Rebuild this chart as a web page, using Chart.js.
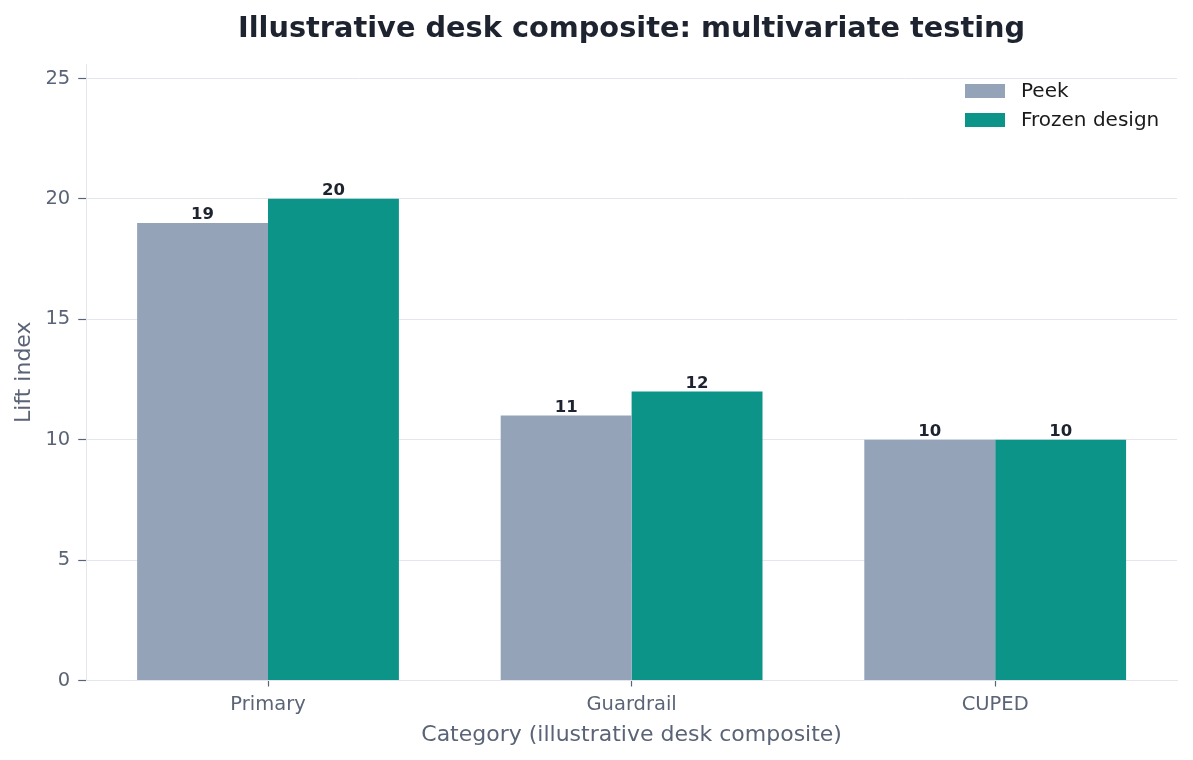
<!DOCTYPE html>
<html>
<head>
<meta charset="utf-8">
<script src="https://cdn.jsdelivr.net/npm/chart.js@4/dist/chart.umd.min.js"></script>
<style>
  html, body { margin: 0; padding: 0; background: #fff; }
  #wrap { width: 1193px; height: 760px; }
</style>
</head>
<body>
<div id="wrap"><canvas id="liftChart"></canvas></div>
<script>
// chart data
const categories = ["Primary", "Guardrail", "CUPED"];
const peekValues = [19, 11, 10];
const frozenValues = [20, 12, 10];
const yTicks = [0, 5, 10, 15, 20, 25];

const FONT = "'DejaVu Sans', sans-serif";
const TICK_COLOR = "#5b6477";
const LINE_COLOR = "#e3e7ed";

// title centred over the plot area, value labels, legend inside the plot
const decorations = {
  id: "decorations",
  afterDatasetsDraw(chart) {
    const ctx = chart.ctx;
    const area = chart.chartArea;
    ctx.save();

    // value labels on top of each bar
    ctx.font = "bold 16.5px " + FONT;
    ctx.fillStyle = "#1e2330";
    ctx.textAlign = "center";
    ctx.textBaseline = "alphabetic";
    chart.data.datasets.forEach((ds, i) => {
      chart.getDatasetMeta(i).data.forEach((bar, j) => {
        ctx.fillText(String(ds.data[j]), bar.x, bar.y - 4);
      });
    });

    // title
    ctx.font = "bold 28.8px " + FONT;
    ctx.fillStyle = "#1e2330";
    ctx.textBaseline = "middle";
    ctx.fillText("Illustrative desk composite: multivariate testing", (area.left + area.right) / 2, 30);

    // legend
    ctx.font = "20px " + FONT;
    ctx.textAlign = "left";
    chart.data.datasets.forEach((ds, i) => {
      const y = 84 + i * 29;
      ctx.fillStyle = ds.backgroundColor;
      ctx.fillRect(965, y, 40, 14);
      ctx.fillStyle = "#1a1a1a";
      ctx.fillText(ds.label, 1021, y + 8);
    });
    ctx.restore();
  }
};

let ctx = document.getElementById("liftChart").getContext("2d");
let liftChart = new Chart(ctx, {
  type: "bar",
  data: {
    labels: categories,
    datasets: [
      {
        label: "Peek",
        data: peekValues,
        backgroundColor: "#94a3b8",
        categoryPercentage: 0.72,
        barPercentage: 1.0
      },
      {
        label: "Frozen design",
        data: frozenValues,
        backgroundColor: "#0d9488",
        categoryPercentage: 0.72,
        barPercentage: 1.0
      }
    ]
  },
  options: {
    responsive: true,
    maintainAspectRatio: false,
    animation: false,
    layout: { padding: { top: 64, right: 16, left: 7, bottom: 8 } },
    plugins: {
      legend: { display: false },
      title: { display: false },
      tooltip: { enabled: false }
    },
    scales: {
      x: {
        grid: { offset: false, drawOnChartArea: false, tickLength: 6, tickColor: TICK_COLOR, tickWidth: 1.2 },
        border: { color: LINE_COLOR, width: 1 },
        ticks: { color: TICK_COLOR, font: { family: FONT, size: 19.5, lineHeight: 1.0 }, padding: 9 },
        title: {
          display: true,
          text: "Category (illustrative desk composite)",
          color: TICK_COLOR,
          font: { family: FONT, size: 22, lineHeight: 1.0 },
          padding: { top: 0, bottom: 6 }
        }
      },
      y: {
        min: 0,
        max: 25.6,
        afterBuildTicks: scale => {
          scale.ticks = yTicks.map(v => ({ value: v }));
        },
        grid: { color: LINE_COLOR, lineWidth: 1, tickLength: 8, tickColor: TICK_COLOR, tickWidth: 1.2 },
        border: { color: LINE_COLOR, width: 1 },
        ticks: { color: TICK_COLOR, font: { family: FONT, size: 19.5 }, padding: 8 },
        title: {
          display: true,
          text: "Lift index",
          color: TICK_COLOR,
          font: { family: FONT, size: 22 },
          padding: { top: 4, bottom: 0 }
        }
      }
    }
  },
  plugins: [decorations]
});
</script>
</body>
</html>
